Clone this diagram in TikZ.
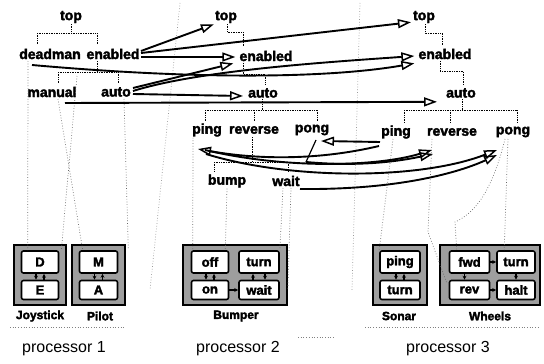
\documentclass[tikz,border=0pt]{standalone}
\usepackage{fontspec}
\setmainfont{Liberation Sans}
\newfontfamily\heavyfont{Liberation Sans}[UprightFont={* Bold}, UprightFeatures={FakeBold=2.5}]
\usetikzlibrary{arrows.meta,calc}
\begin{document}
\begin{tikzpicture}[x=1pt,y=-1pt,
  lbl/.style={font=\fontsize{14}{16}\heavyfont, inner sep=1pt},
  sm/.style={draw=black, line width=1.6pt, fill=white, rounded corners=2pt, font=\fontsize{13}{15}\heavyfont, inner sep=0pt, minimum height=22pt},
  grp/.style={draw=black, line width=2.6pt, fill=black!38},
  boxcap/.style={font=\fontsize{12}{14}\heavyfont},
  proc/.style={font=\fontsize{16}{18}\selectfont},
  msg/.style={line width=1.9pt, -{Triangle[open,length=13pt,width=9pt,line width=1.5pt]}},
  brk/.style={densely dotted, line width=0.7pt},
  faint/.style={dotted, black!60, line width=0.7pt},
  trans/.style={line width=1.1pt, -{Stealth[length=4pt,width=4pt]}},
]
\useasboundingbox (0,0) rectangle (544,364);
\fill[white] (0,0) rectangle (544,364);

% ---------- tree, processor 1
\node[lbl] (top1) at (71,17) {top};
\node[lbl] (dead1) at (50,54) {deadman};
\node[lbl] (en1) at (113,54) {enabled};
\node[lbl] (man1) at (52,92) {manual};
\node[lbl] (auto1) at (116,92) {auto};
% ---------- tree, processor 2
\node[lbl] (top2) at (226,17) {top};
\node[lbl] (en2) at (266,56) {enabled};
\node[lbl] (auto2) at (263,93) {auto};
\node[lbl] (ping2) at (207,130) {ping};
\node[lbl] (rev2) at (254,130) {reverse};
\node[lbl] (pong2) at (312,130) {pong};
\node[lbl] (bump2) at (227,181) {bump};
\node[lbl] (wait2) at (286,181) {wait};
% ---------- tree, processor 3
\node[lbl] (top3) at (424,17) {top};
\node[lbl] (en3) at (445,54) {enabled};
\node[lbl] (auto3) at (461,93) {auto};
\node[lbl] (ping3) at (396,132) {ping};
\node[lbl] (rev3) at (452,132) {reverse};
\node[lbl] (pong3) at (513,132) {pong};

% ---------- brackets
\draw[brk] (71,24)--(71,33) (37,33)--(97,33) (37,33)--(37,44) (97,33)--(97,44);
\draw[brk] (97,61)--(97,72) (58,72)--(118,72) (58,72)--(58,83) (118,72)--(118,83);
\draw[brk] (227,24)--(227,32)--(243,32)--(243,47);
\draw[brk] (243,63)--(243,74)--(265,74)--(265,85);
\draw[brk] (262,99)--(262,110) (205,110)--(317,110) (205,110)--(205,121) (254,110)--(254,121) (317,110)--(317,121);
\draw[brk] (252,137)--(252,161) (214,162)--(288,162) (214,162)--(214,172) (288,162)--(288,172);
\draw[brk] (425,24)--(425,33)--(442,33)--(442,46);
\draw[brk] (440,61)--(440,71)--(463,71)--(463,84);
\draw[brk] (462,99)--(462,110) (404,110)--(517,110) (404,110)--(404,122) (450,110)--(450,122) (517,110)--(517,122);

% ---------- state machine groups
\node[grp, minimum width=52pt, minimum height=60pt] (joy) at (40,275) {};
\node[grp, minimum width=53pt, minimum height=60pt] (pil) at (98.5,275) {};
\node[grp, minimum width=104pt, minimum height=60pt] (bmp) at (235,275) {};
\node[grp, minimum width=54pt, minimum height=60pt] (son) at (400,275) {};
\node[grp, minimum width=100pt, minimum height=60pt] (whl) at (490,275) {};

\node[sm, minimum width=37pt] (sD) at (40,262) {D};
\node[sm, minimum width=37pt, minimum height=19pt] (sE) at (40,290) {E};
\node[sm, minimum width=38pt] (sM) at (98.5,262) {M};
\node[sm, minimum width=38pt, minimum height=19pt] (sA) at (98.5,290) {A};
\node[sm, minimum width=37pt] (soff) at (210,262) {off};
\node[sm, minimum width=40pt] (sturnB) at (259,262) {turn};
\node[sm, minimum width=37pt, minimum height=19pt] (son2) at (210,290) {on};
\node[sm, minimum width=40pt, minimum height=19pt] (swait) at (259,290) {wait};
\node[sm, minimum width=40pt] (sping) at (400,262) {ping};
\node[sm, minimum width=40pt, minimum height=19pt] (sturnS) at (400,290) {turn};
\node[sm, minimum width=40pt] (sfwd) at (469.5,262) {fwd};
\node[sm, minimum width=38pt] (sturnW) at (516,262) {turn};
\node[sm, minimum width=40pt, minimum height=19pt] (srev) at (469.5,290) {rev};
\node[sm, minimum width=38pt, minimum height=19pt] (shalt) at (516,290) {halt};

% small transitions inside the groups
\draw[trans] ($(sD.south)+(-4,0)$) -- ($(sE.north)+(-4,0)$);
\draw[trans] ($(sE.north)+(4,0)$) -- ($(sD.south)+(4,0)$);
\draw[trans] ($(sM.south)+(-4,0)$) -- ($(sA.north)+(-4,0)$);
\draw[trans] ($(sA.north)+(4,0)$) -- ($(sM.south)+(4,0)$);
\draw[trans] ($(soff.south)+(-4,0)$) -- ($(son2.north)+(-4,0)$);
\draw[trans] ($(son2.north)+(4,0)$) -- ($(soff.south)+(4,0)$);
\draw[trans] (son2.east) -- (swait.west);
\draw[trans] ($(swait.north)+(-6,0)$) -- ($(sturnB.south)+(-6,0)$);
\draw[trans] ($(sturnB.south)+(6,0)$) -- ($(swait.north)+(6,0)$);
\draw[trans] ($(sping.south)+(-4,0)$) -- ($(sturnS.north)+(-4,0)$);
\draw[trans] ($(sturnS.north)+(4,0)$) -- ($(sping.south)+(4,0)$);
\draw[trans] (sfwd.east) -- (sturnW.west);
\draw[trans] ($(sfwd.south)+(-5,0)$) -- ($(srev.north)+(-5,0)$);
\draw[trans] (sturnW.south) -- (shalt.north);
\draw[trans] (srev.east) -- (shalt.west);

% captions
\node[boxcap] (cJoy) at (40,316) {Joystick};
\node[boxcap] (cPil) at (100,316) {Pilot};
\node[boxcap] (cBmp) at (236,316) {Bumper};
\node[boxcap] (cSon) at (399,316) {Sonar};
\node[boxcap] (cWhl) at (490,316) {Wheels};
\node[proc] (p1) at (64,349) {processor 1};
\node[proc] (p2) at (238,349) {processor 2};
\node[proc] (p3) at (448,349) {processor 3};

% ---------- faint dotted links from tree to machines
\draw[faint] (28,61) -- ($(sD.north west)+(7,0)$);
\draw[faint] (77,76) -- ($(sD.north east)+(2,0)$);
\draw[faint] (58,99) -- ($(sM.north west)+(4,0)$);
\draw[faint] (124,99) -- ($(sM.north east)+(10,-2)$);
\draw[faint] ($(ping2.south west)+(2,0)$) -- ($(soff.north west)+(2,0)$);
\draw[faint] (bump2.south) -- ($(soff.north east)+(-4,0)$);
\draw[faint] (283,188) -- (sturnB.north east);
\draw[faint] (291,188) -- ($(swait.east)+(8,0)$);
\draw[faint] (393,139) -- (sping.north west);
\draw[faint] (432,139) -- (428,232) -- ($(srev.north west)+(-2,3)$);
\draw[faint] (505,139) .. controls (490,200) and (470,215) .. (455,222) -- ($(sfwd.north west)+(8,0)$);
\draw[faint] (508,139) -- ($(sturnW.north west)+(8,0)$);
% processor separators and underlines
\draw[faint, black!40] (180,3) -- (150,290);
\draw[faint, black!40] (360,3) -- (352,290);
\draw[faint, black!50] (10,327) -- (125,327);
\draw[faint, black!50] (298,337) -- (335,337);
\draw[faint, black!50] (365,327) -- (540,327);

% ---------- messages from processor 1
\coordinate (a1s) at (141,51);
\coordinate (a2s) at (141,53);
\coordinate (a3s) at (141,57);
\coordinate (a4s) at (133,88);
\coordinate (a5s) at (133,91);
\coordinate (a6s) at (32,65);
\coordinate (a7s) at (133,94);
\coordinate (a8s) at (65,103);
\draw[msg] (a1s) -- (top2.south west);
\draw[msg] (a2s) -- ($(top3.south west)+(-1,-2)$);
\draw[msg] (a3s) -- ($(en2.west)+(-3,1)$);
\draw[msg] (a4s) -- ($(en2.south west)+(-5,1)$);
\draw[msg] (a5s) .. controls (200,70) and (330,62) .. ($(en3.west)+(-3,2)$);
\draw[msg] (a6s) .. controls (200,80) and (330,78) .. ($(en3.south west)+(-3,3)$);
\draw[msg] (a7s) -- ($(auto2.west)+(-4,3)$);
\draw[msg] (a8s) -- ($(auto3.south west)+(-8,3)$);

% ---------- messages between processors 2 and 3
\coordinate (b1s) at (380,142);
\coordinate (b1e) at (321,141);
\coordinate (b2s) at (379,146);
\coordinate (b2e) at (198,149);
\coordinate (b3s) at (205,150);
\coordinate (b3e) at (432,150);
\coordinate (b4s) at (316,140);
\coordinate (b4m) at (306,162);
\coordinate (b4e) at (433,154);
\coordinate (b5s) at (206,154);
\coordinate (b5e) at (497,150);
\coordinate (b6s) at (300,189);
\coordinate (b6e) at (497,155);
\draw[msg] (b1s) -- (b1e);
\draw[msg] (b2s) .. controls (320,160) and (260,160) .. (b2e);
\draw[msg] (b3s) .. controls (290,170) and (380,166) .. (b3e);
\draw[line width=1.2pt] (b4s) -- (b4m);
\draw[msg] (b4m) .. controls (360,167) and (400,161) .. (b4e);
\draw[msg] (b5s) .. controls (290,180) and (420,180) .. (b5e);
\draw[msg] (b6s) .. controls (400,190) and (460,172) .. (b6e);
\end{tikzpicture}
\end{document}
